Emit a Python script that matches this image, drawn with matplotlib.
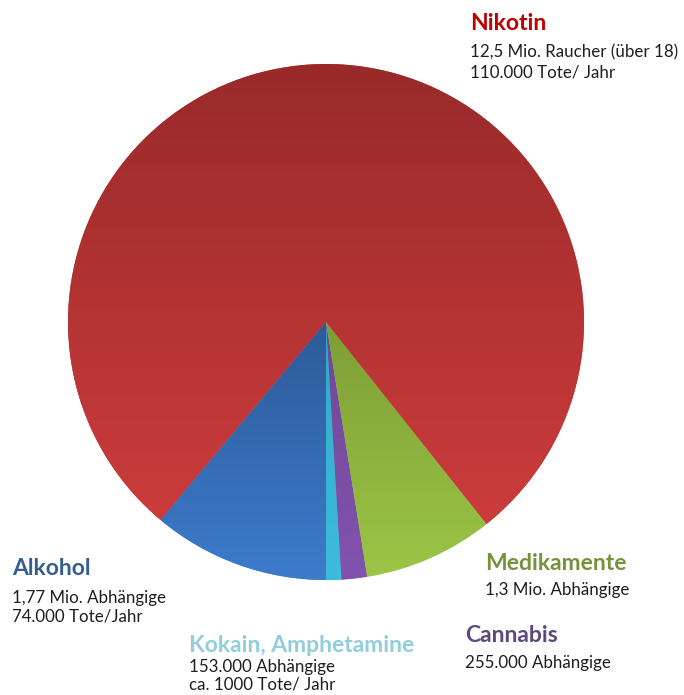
import matplotlib.pyplot as plt
import numpy as np
from matplotlib.colors import to_rgb

# data (order counterclockwise, starting straight down)
names = ["Kokain, Amphetamine", "Cannabis", "Medikamente", "Nikotin", "Alkohol"]
values = [0.153, 0.255, 1.3, 12.5, 1.77]  # Mio.
notes = [
    ["153.000 Abhängige", "ca. 1000 Tote/ Jahr"],
    ["255.000 Abhängige"],
    ["1,3 Mio. Abhängige"],
    ["12,5 Mio. Raucher (über 18)", "110.000 Tote/ Jahr"],
    ["1,77 Mio. Abhängige", "74.000 Tote/Jahr"],
]

# slice gradients (top -> bottom of each slice) and label colours
slice_colors = [
    ("#2FA9C9", "#3EBCDC"),
    ("#6E4898", "#8253AE"),
    ("#7E9E36", "#9CC546"),
    ("#992A2A", "#CC3C3C"),
    ("#2D5B99", "#3D7BCB"),
]
title_colors = ["#92CDDC", "#5F497A", "#76923C", "#C00000", "#365F91"]

# label anchors in pixels (x left, baseline of title) and line gaps
W, H = 684, 695
label_pos = [(189, 652), (465, 642), (485, 570), (470, 30), (12, 575)]
line_gap = [(20, 18), (26,), (25,), (27, 20), (28, 19)]

fig = plt.figure(figsize=(W / 100, H / 100), dpi=100)
ax = fig.add_axes([0, 0, 1, 1])

cx, cy, r = 326, H - 322, 258
wedges, _ = ax.pie(values, startangle=270, counterclock=True,
                   center=(cx, cy), radius=r,
                   colors=[c[1] for c in slice_colors],
                   wedgeprops=dict(linewidth=0))

for wedge, (top, bottom) in zip(wedges, slice_colors):
    bb = wedge.get_path().get_extents()
    t = np.linspace(0, 1, 256)[:, None, None]
    grad = (1 - t) * np.array(to_rgb(top)) + t * np.array(to_rgb(bottom))
    im = ax.imshow(grad, extent=(bb.x0, bb.x1, bb.y0, bb.y1), origin="upper",
                   aspect="auto", interpolation="bilinear", zorder=2)
    im.set_clip_path(wedge)

for name, lines, col, (x, y), gaps in zip(names, notes, title_colors, label_pos, line_gap):
    ax.text(x, H - y, name, color=col, fontsize=16.5, fontweight="bold",
            family="Lato", va="baseline", ha="left")
    yy = y
    for line, g in zip(lines, gaps):
        yy += g
        ax.text(x, H - yy, line, color="#1E1E1E", fontsize=12.2,
                family="Lato", va="baseline", ha="left")

ax.set_xlim(0, W)
ax.set_ylim(0, H)
ax.set_aspect("auto")
ax.axis("off")

fig.savefig("out.png", dpi=100)
